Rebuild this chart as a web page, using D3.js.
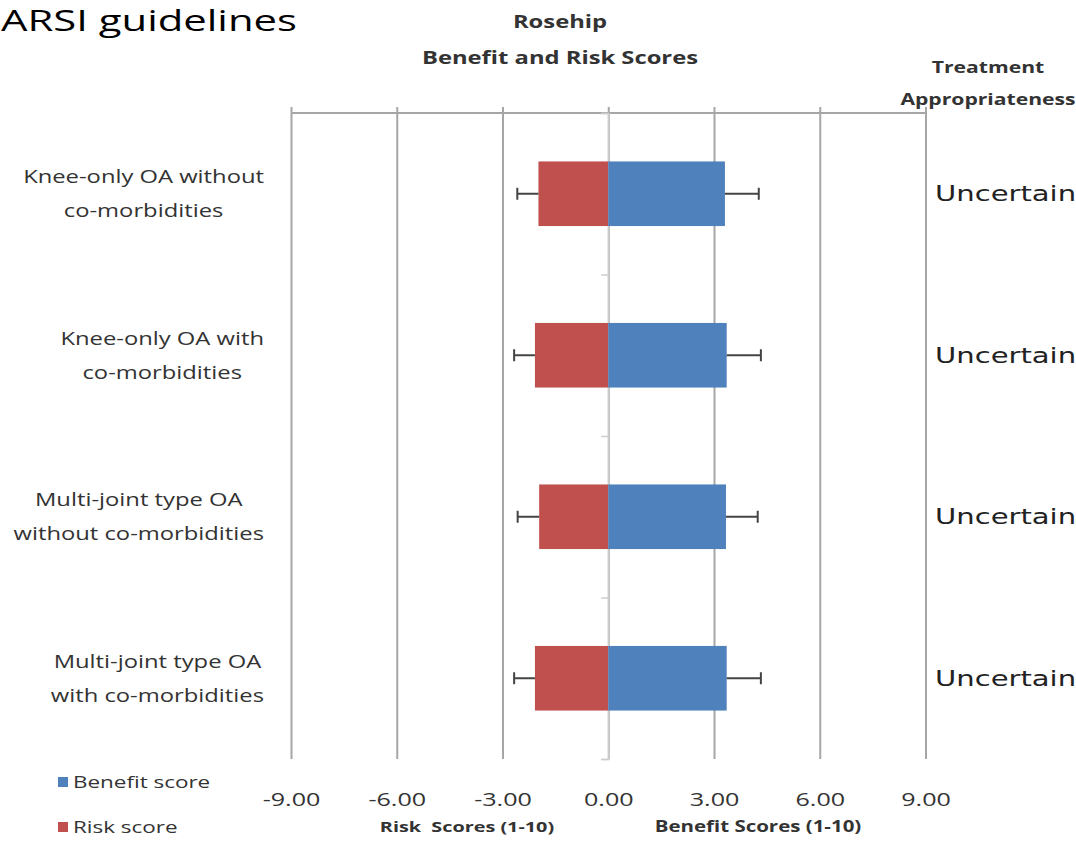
<!DOCTYPE html>
<html>
<head>
<meta charset="utf-8">
<script src="https://cdn.jsdelivr.net/npm/d3@7"></script>
<style>
  body { margin: 0; background: #fff; }
  svg { display: block; }
  text { font-family: "Open Sans", sans-serif; fill: #333; }
</style>
</head>
<body>
<div id="chart"></div>
<script>
// chart data
const categories = [
  ["Knee-only OA without", "co-morbidities"],
  ["Knee-only OA with", "co-morbidities"],
  ["Multi-joint type OA", "without co-morbidities"],
  ["Multi-joint type OA", "with co-morbidities"]
];
const riskScores = [-1.98, -2.08, -1.96, -2.08];
const benefitScores = [3.31, 3.36, 3.34, 3.36];
const riskErrors = [0.60, 0.59, 0.61, 0.59];
const benefitErrors = [0.96, 0.97, 0.90, 0.97];
const appropriateness = ["Uncertain", "Uncertain", "Uncertain", "Uncertain"];
const xTicks = [-9, -6, -3, 0, 3, 6, 9];
const legendItems = [
  {name: "Benefit score", color: "#4F81BD"},
  {name: "Risk score", color: "#C0504D"}
];

const W = 1076, H = 841;
const plot = {left: 291, right: 925.5, top: 113, bottom: 759};
// the source picture is stretched sideways, so text is widened to match
const stretch = 1.32;

function widen(sel, k) {
  sel.each(function() {
    var w = this.getComputedTextLength();
    d3.select(this)
      .attr("textLength", w * k)
      .attr("lengthAdjust", "spacingAndGlyphs");
  });
  return sel;
}

var svg = d3.select("#chart").append("svg")
  .attr("width", W)
  .attr("height", H);

// scales
var x = d3.scaleLinear().domain([-9, 9]).range([plot.left, plot.right]);
var y = d3.scaleBand().domain(d3.range(categories.length))
  .range([plot.top, plot.bottom])
  .paddingInner(0.6)
  .paddingOuter(0.3);
var yEdge = d3.scaleLinear().domain([0, categories.length])
  .range([plot.top, plot.bottom]);

// slide title, cut off on the left in the original
svg.append("text")
  .attr("x", 1)
  .attr("y", 31)
  .style("font-size", "29px")
  .style("fill", "#000")
  .attr("textLength", 296)
  .attr("lengthAdjust", "spacingAndGlyphs")
  .text("ARSI guidelines");

// chart titles
widen(svg.append("text")
  .attr("x", 560).attr("y", 28)
  .attr("text-anchor", "middle")
  .style("font-size", "18px").style("font-weight", "bold")
  .text("Rosehip"), stretch);
widen(svg.append("text")
  .attr("x", 560).attr("y", 64)
  .attr("text-anchor", "middle")
  .style("font-size", "18px").style("font-weight", "bold")
  .text("Benefit and Risk Scores"), stretch);
widen(svg.append("text")
  .attr("x", 988).attr("y", 73)
  .attr("text-anchor", "middle")
  .style("font-size", "16px").style("font-weight", "bold")
  .text("Treatment"), stretch);
widen(svg.append("text")
  .attr("x", 988).attr("y", 105)
  .attr("text-anchor", "middle")
  .style("font-size", "16px").style("font-weight", "bold")
  .text("Appropriateness"), stretch);

// gridlines + bottom tick labels
var xAxis = d3.axisBottom(x)
  .tickValues(xTicks)
  .tickFormat(d => d.toFixed(2))
  .tickSize(-(plot.bottom - plot.top + 6))
  .tickPadding(34);
var gx = svg.append("g")
  .attr("transform", "translate(0," + plot.bottom + ")")
  .call(xAxis);
gx.select(".domain").remove();
gx.selectAll(".tick line")
  .style("stroke", "#a6a6a6")
  .style("stroke-width", 2);
widen(gx.selectAll(".tick text")
  .style("font-size", "19px")
  .style("font-family", "Open Sans, sans-serif")
  .style("fill", "#333"), stretch);

// top border line
svg.append("line")
  .attr("x1", x(-9)).attr("x2", x(9))
  .attr("y1", plot.top).attr("y2", plot.top)
  .style("stroke", "#a6a6a6")
  .style("stroke-width", 2);

// category axis at zero
var yAxis = d3.axisLeft(yEdge)
  .tickValues(d3.range(categories.length + 1))
  .tickFormat("")
  .tickSize(7);
var gy = svg.append("g")
  .attr("transform", "translate(" + x(0) + ",0)")
  .call(yAxis);
gy.selectAll("path, line")
  .style("stroke", "#ccc")
  .style("stroke-width", 1.5);

// bars
var rows = svg.append("g").selectAll("g")
  .data(d3.range(categories.length))
  .enter().append("g");

rows.append("rect")
  .attr("x", i => x(riskScores[i]))
  .attr("y", i => y(i))
  .attr("width", i => x(0) - x(riskScores[i]))
  .attr("height", y.bandwidth())
  .style("fill", "#C0504D");

rows.append("rect")
  .attr("x", x(0))
  .attr("y", i => y(i))
  .attr("width", i => x(benefitScores[i]) - x(0))
  .attr("height", y.bandwidth())
  .style("fill", "#4F81BD");

// error bars
var errColor = "#444";
var mid = i => y(i) + y.bandwidth() / 2;
rows.append("line")
  .attr("x1", i => x(riskScores[i]))
  .attr("x2", i => x(riskScores[i] - riskErrors[i]))
  .attr("y1", mid).attr("y2", mid)
  .style("stroke", errColor).style("stroke-width", 2);
rows.append("line")
  .attr("x1", i => x(riskScores[i] - riskErrors[i]))
  .attr("x2", i => x(riskScores[i] - riskErrors[i]))
  .attr("y1", i => mid(i) - 6).attr("y2", i => mid(i) + 6)
  .style("stroke", errColor).style("stroke-width", 2);
rows.append("line")
  .attr("x1", i => x(benefitScores[i]))
  .attr("x2", i => x(benefitScores[i] + benefitErrors[i]))
  .attr("y1", mid).attr("y2", mid)
  .style("stroke", errColor).style("stroke-width", 2);
rows.append("line")
  .attr("x1", i => x(benefitScores[i] + benefitErrors[i]))
  .attr("x2", i => x(benefitScores[i] + benefitErrors[i]))
  .attr("y1", i => mid(i) - 6).attr("y2", i => mid(i) + 6)
  .style("stroke", errColor).style("stroke-width", 2);

// category labels: lines centred inside a right-aligned block
var labelRight = 264;
rows.each(function(i) {
  var g = d3.select(this);
  var texts = g.selectAll(".cat")
    .data(categories[i])
    .enter().append("text")
    .attr("class", "cat")
    .attr("y", (d, j) => mid(i) + (j - (categories[i].length - 1) / 2) * 34)
    .attr("dy", "0.35em")
    .attr("text-anchor", "middle")
    .style("font-size", "18px")
    .text(d => d);
  var maxW = 0;
  texts.each(function() { maxW = Math.max(maxW, this.getComputedTextLength()); });
  widen(texts, stretch);
  texts.attr("x", labelRight - maxW * stretch / 2);
});

// appropriateness column
widen(rows.append("text")
  .attr("x", 935)
  .attr("y", mid)
  .attr("dy", "0.35em")
  .style("font-family", "DejaVu Sans, sans-serif")
  .style("font-size", "22px")
  .style("fill", "#222")
  .text(i => appropriateness[i]), stretch);

// axis titles
widen(svg.append("text")
  .attr("x", 467).attr("y", 832)
  .attr("text-anchor", "middle")
  .style("font-size", "15px").style("font-weight", "bold")
  .style("white-space", "pre")
  .text("Risk  Scores (1-10)"), stretch);
widen(svg.append("text")
  .attr("x", 758).attr("y", 832)
  .attr("text-anchor", "middle")
  .style("font-size", "15.5px").style("font-weight", "bold")
  .text("Benefit Scores (1-10)"), stretch);

// legend
var legend = svg.append("g").selectAll("g")
  .data(legendItems)
  .enter().append("g")
  .attr("transform", (d, i) => "translate(58," + (782 + i * 45) + ")");
legend.append("rect")
  .attr("x", 0).attr("y", -5)
  .attr("width", 10).attr("height", 10)
  .style("fill", d => d.color);
widen(legend.append("text")
  .attr("x", 15)
  .attr("dy", "0.35em")
  .style("font-size", "17px")
  .text(d => d.name), stretch);
</script>
</body>
</html>
